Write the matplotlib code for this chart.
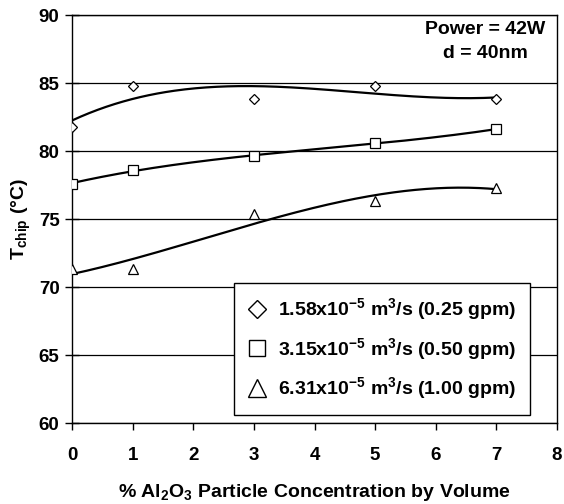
import numpy as np
import matplotlib
matplotlib.use("Agg")
import matplotlib.pyplot as plt

# values
CONCENTRATION = [0, 1, 3, 5, 7]
T_025_GPM = [81.8, 84.8, 83.8, 84.8, 83.8]
T_050_GPM = [77.6, 78.6, 79.6, 80.6, 81.6]
T_100_GPM = [71.3, 71.3, 75.4, 76.3, 77.3]

SERIES_LABELS = [
    r"1.58x10$^{-5}$ m$^{3}$/s (0.25 gpm)",
    r"3.15x10$^{-5}$ m$^{3}$/s (0.50 gpm)",
    r"6.31x10$^{-5}$ m$^{3}$/s (1.00 gpm)",
]
MARKERS = ["D", "s", "^"]
X_TICKS = list(range(0, 9))
Y_TICKS = list(range(60, 95, 5))

FONT = ["Liberation Sans", "DejaVu Sans"]


def setup_fonts():
    plt.rcParams["font.family"] = FONT
    plt.rcParams["font.weight"] = "bold"
    plt.rcParams["mathtext.fontset"] = "custom"
    plt.rcParams["mathtext.rm"] = "Liberation Sans:bold"
    plt.rcParams["mathtext.it"] = "Liberation Sans:bold"
    plt.rcParams["mathtext.bf"] = "Liberation Sans:bold"
    plt.rcParams["mathtext.default"] = "rm"


def trend(x, y):
    # Excel-style 3rd order polynomial trendline
    coeffs = np.polyfit(x, y, 3)
    xs = np.linspace(min(x), max(x), 200)
    return xs, np.polyval(coeffs, xs)


def plot_chart():
    fig = plt.figure(figsize=(5.64, 5.04), dpi=100)
    ax = fig.add_axes([0.1277, 0.1607, 0.8599, 0.8095])

    all_series = [T_025_GPM, T_050_GPM, T_100_GPM]
    marker_sizes = [5.5, 6.5, 7.5]
    legend_handles = []
    for values, marker, label, ms in zip(all_series, MARKERS, SERIES_LABELS, marker_sizes):
        xs, ys = trend(CONCENTRATION, values)
        ax.plot(xs, ys, color="black", linewidth=1.6, zorder=3)
        ax.plot(CONCENTRATION, values, linestyle="none", marker=marker, markersize=ms,
                markerfacecolor="white", markeredgecolor="black", markeredgewidth=0.9, zorder=4)
        h, = ax.plot([], [], linestyle="none", marker=marker, markersize=ms * 1.7,
                     markerfacecolor="white", markeredgecolor="black", markeredgewidth=1.0,
                     label=label)
        legend_handles.append(h)

    ax.set_xlim(0, 8)
    ax.set_ylim(60, 90)
    ax.set_xticks(X_TICKS)
    ax.set_yticks(Y_TICKS)
    ax.yaxis.grid(True, color="black", linewidth=0.9)
    ax.set_axisbelow(True)
    ax.tick_params(axis="x", direction="out", length=5, width=1, labelsize=13.5, pad=12)
    ax.tick_params(axis="y", direction="inout", length=10, width=1, labelsize=13.5, pad=4)
    for spine in ax.spines.values():
        spine.set_color("black")
        spine.set_linewidth(1)

    ax.set_xlabel(r"% Al$_{2}$O$_{3}$ Particle Concentration by Volume",
                  fontsize=14, fontweight="bold", labelpad=13)
    ax.set_ylabel(r"T$_{\mathrm{chip}}$ (°C)", fontsize=14, fontweight="bold", labelpad=4)

    ax.text(0.852, 0.985, "Power = 42W\nd = 40nm", transform=ax.transAxes,
            ha="center", va="top", fontsize=14, fontweight="bold", linespacing=1.5)

    leg = ax.legend(handles=legend_handles, loc="lower right", bbox_to_anchor=(0.944, 0.02),
                    fontsize=14, frameon=True, fancybox=False, edgecolor="black",
                    framealpha=1, handlelength=1.0, handletextpad=0.6, borderpad=0.7,
                    labelspacing=0.7, borderaxespad=0)
    leg.get_frame().set_linewidth(1)
    leg.set_zorder(5)

    fig.savefig("out.png", dpi=100)


def main():
    setup_fonts()
    plot_chart()


if __name__ == "__main__":
    main()
